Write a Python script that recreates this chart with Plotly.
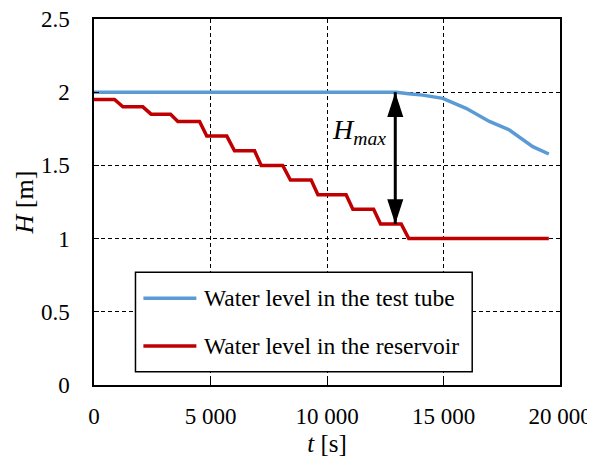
import plotly.graph_objects as go

# ---- data ----
tube_t = [0, 12970, 13500, 14110, 14970, 15970, 16970, 17830, 18830, 19520]
tube_H = [2.00, 2.00, 1.99, 1.98, 1.958, 1.89, 1.80, 1.742, 1.628, 1.578]

res_t = [0, 880, 1240, 2095, 2450, 3285, 3600, 4530, 4840, 5700, 6030, 6890, 7175,
         8100, 8430, 9320, 9610, 10820, 11110, 12000, 12300, 13185, 13510, 19520]
res_H = [1.95, 1.95, 1.90, 1.90, 1.85, 1.85, 1.80, 1.80, 1.70, 1.70, 1.60, 1.60, 1.50,
         1.50, 1.40, 1.40, 1.30, 1.30, 1.20, 1.20, 1.10, 1.10, 1.00, 1.00]

series_names = ["Water level in the test tube", "Water level in the reservoir"]
series_colors = ["#5B9BD5", "#C00000"]

x_tickvals = [0, 5000, 10000, 15000, 20000]
x_ticktext = ["0", "5 000", "10 000", "15 000", "20 000"]
y_tickvals = [0, 0.5, 1, 1.5, 2, 2.5]
y_ticktext = ["0", "0.5", "1", "1.5", "2", "2.5"]

hmax_t = [12930, 12930]
hmax_H = [1.1, 2.0]
hmax_label_t = 12600
hmax_label_H = 1.73

FONT = "Liberation Serif"

fig = go.Figure()
fig.add_trace(go.Scatter(x=tube_t, y=tube_H, mode="lines", name=series_names[0],
                         line=dict(color=series_colors[0], width=3.5), showlegend=False))
fig.add_trace(go.Scatter(x=res_t, y=res_H, mode="lines", name=series_names[1],
                         line=dict(color=series_colors[1], width=3.5), showlegend=False))

# double-headed arrow H_max
fig.add_trace(go.Scatter(x=hmax_t, y=hmax_H, mode="lines+markers", showlegend=False,
                         hoverinfo="skip",
                         line=dict(color="black", width=3),
                         marker=dict(symbol="arrow", size=26, color="black",
                                     angle=[180, 0])))
fig.add_annotation(x=hmax_label_t, y=hmax_label_H, xref="x", yref="y",
                   text="<i>H<sub>max</sub></i>", showarrow=False,
                   xanchor="right", yanchor="middle",
                   font=dict(family=FONT, size=28, color="black"))

# manual legend (box, samples, text)
lx0, lx1, ly0, ly1 = 0.089, 0.8116, 0.0363, 0.308
fig.add_shape(type="rect", xref="paper", yref="paper", x0=lx0, x1=lx1, y0=ly0, y1=ly1,
              line=dict(color="black", width=1.5), fillcolor="white", layer="above")
rows_y = [0.2369, 0.1066]
for name, color, ry in zip(series_names, series_colors, rows_y):
    fig.add_shape(type="line", xref="paper", yref="paper", x0=0.106, x1=0.2197, y0=ry, y1=ry,
                  line=dict(color=color, width=3.5), layer="above")
    fig.add_annotation(xref="paper", yref="paper", x=0.2322, y=ry, text=name, showarrow=False,
                       xanchor="left", yanchor="middle",
                       font=dict(family=FONT, size=23.5, color="black"))

axis_common = dict(showline=True, linecolor="black", linewidth=1.5, mirror=True,
                   ticks="inside", ticklen=5, tickcolor="black",
                   showgrid=True, gridcolor="black", gridwidth=1, griddash="4px,3px",
                   zeroline=False, ticklabeloverflow="allow",
                   tickfont=dict(family=FONT, size=23, color="black"))

fig.update_xaxes(range=[0, 20000], tickvals=x_tickvals, ticktext=x_ticktext,
                 ticklabelstandoff=10,
                 title=dict(text="<i>t</i> [s]", font=dict(family=FONT, size=25, color="black"),
                            standoff=6),
                 **axis_common)
fig.update_yaxes(range=[0, 2.5], tickvals=y_tickvals, ticktext=y_ticktext,
                 ticklabelstandoff=18,
                 title=dict(text="<i>H</i> [m]", font=dict(family=FONT, size=26, color="black"),
                            standoff=0),
                 **axis_common)

fig.update_layout(width=587, height=449,
                  margin=dict(l=86, r=35, t=11, b=72, autoexpand=False),
                  plot_bgcolor="white", paper_bgcolor="white",
                  font=dict(family=FONT, size=23, color="black"),
                  showlegend=False)

fig.write_html("out.html")
